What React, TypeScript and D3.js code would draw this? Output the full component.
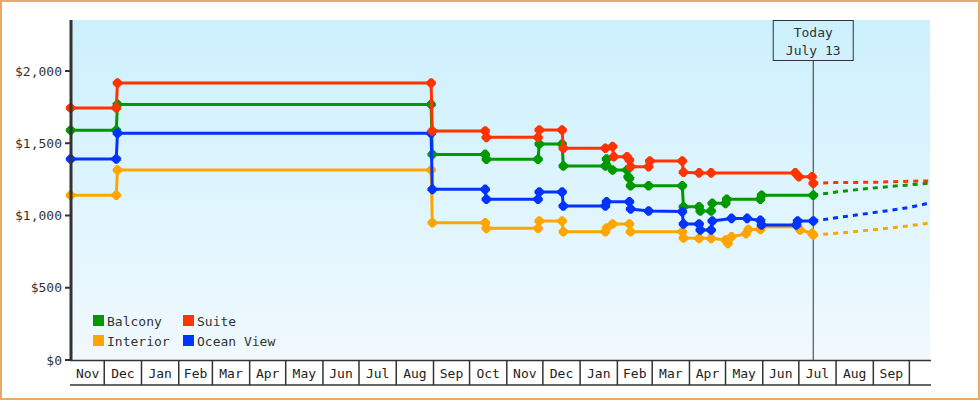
import React from "react";
import * as d3 from "d3";

const WIDTH = 980;
const HEIGHT = 400;

const seriesNames = ["Interior", "Balcony", "Ocean View", "Suite"];
const seriesColors = ["#ffa500", "#009900", "#0033ff", "#ff3300"];

const interior: [string, number][] = [
  ["2022-11-03", 1140], ["2022-12-11", 1140], ["2022-12-12", 1315],
  ["2023-08-30", 1315], ["2023-08-31", 950], ["2023-10-14", 950], ["2023-10-15", 911],
  ["2023-11-27", 911], ["2023-11-28", 962], ["2023-12-17", 962], ["2023-12-18", 888],
  ["2024-01-22", 888], ["2024-01-23", 913], ["2024-01-28", 941], ["2024-02-11", 941],
  ["2024-02-12", 888], ["2024-03-26", 888], ["2024-03-27", 844], ["2024-04-09", 842],
  ["2024-04-19", 842], ["2024-05-01", 830], ["2024-05-03", 806], ["2024-05-06", 853],
  ["2024-05-18", 874], ["2024-05-20", 903], ["2024-05-30", 903], ["2024-05-31", 923],
  ["2024-06-30", 923], ["2024-07-02", 900], ["2024-07-12", 877], ["2024-07-13", 865],
];

const balcony: [string, number][] = [
  ["2022-11-03", 1590], ["2022-12-11", 1590], ["2022-12-12", 1769],
  ["2023-08-30", 1769], ["2023-08-31", 1423], ["2023-10-14", 1423], ["2023-10-15", 1389],
  ["2023-11-27", 1389], ["2023-11-28", 1495], ["2023-12-17", 1495], ["2023-12-18", 1343],
  ["2024-01-22", 1343], ["2024-01-23", 1391], ["2024-01-28", 1315], ["2024-02-09", 1315],
  ["2024-02-10", 1268], ["2024-02-11", 1257], ["2024-02-12", 1206], ["2024-02-27", 1206],
  ["2024-03-26", 1206], ["2024-03-27", 1061], ["2024-04-09", 1061], ["2024-04-10", 1031],
  ["2024-04-19", 1031], ["2024-04-20", 1084], ["2024-05-01", 1084], ["2024-05-02", 1112],
  ["2024-05-30", 1112], ["2024-05-31", 1140], ["2024-07-13", 1140],
];

const oceanView: [string, number][] = [
  ["2022-11-03", 1391], ["2022-12-11", 1391], ["2022-12-12", 1569],
  ["2023-08-30", 1569], ["2023-08-31", 1181], ["2023-10-14", 1181], ["2023-10-15", 1112],
  ["2023-11-27", 1112], ["2023-11-28", 1163], ["2023-12-17", 1163], ["2023-12-18", 1066],
  ["2024-01-22", 1066], ["2024-01-23", 1095], ["2024-02-11", 1095], ["2024-02-12", 1045],
  ["2024-02-27", 1031], ["2024-03-26", 1027], ["2024-03-27", 941], ["2024-04-09", 941],
  ["2024-04-10", 900], ["2024-04-19", 900], ["2024-04-20", 962], ["2024-05-06", 980],
  ["2024-05-19", 980], ["2024-05-30", 966], ["2024-05-31", 934], ["2024-06-29", 934],
  ["2024-06-30", 962], ["2024-07-13", 962],
];

const suite: [string, number][] = [
  ["2022-11-03", 1744], ["2022-12-11", 1744], ["2022-12-12", 1917],
  ["2023-08-30", 1917], ["2023-08-31", 1585], ["2023-10-14", 1585], ["2023-10-15", 1541],
  ["2023-11-27", 1541], ["2023-11-28", 1592], ["2023-12-17", 1592], ["2023-12-18", 1465],
  ["2024-01-22", 1465], ["2024-01-28", 1478], ["2024-01-29", 1407], ["2024-02-09", 1407],
  ["2024-02-11", 1384], ["2024-02-12", 1338], ["2024-02-27", 1338], ["2024-02-28", 1377],
  ["2024-03-26", 1377], ["2024-03-27", 1299], ["2024-04-09", 1295], ["2024-04-19", 1295],
  ["2024-06-28", 1295], ["2024-07-01", 1268], ["2024-07-12", 1268], ["2024-07-13", 1223],
];

const interiorForecast: [string, number][] = [
  ["2024-07-13", 865], ["2024-08-01", 877], ["2024-09-01", 902], ["2024-10-01", 929], ["2024-10-18", 948],
];
const balconyForecast: [string, number][] = [
  ["2024-07-13", 1140], ["2024-08-01", 1162], ["2024-09-01", 1190], ["2024-10-01", 1212], ["2024-10-18", 1224],
];
const oceanViewForecast: [string, number][] = [
  ["2024-07-13", 962], ["2024-08-01", 984], ["2024-09-01", 1020], ["2024-10-01", 1057], ["2024-10-18", 1087],
];
const suiteForecast: [string, number][] = [
  ["2024-07-13", 1223], ["2024-08-01", 1228], ["2024-09-01", 1230], ["2024-09-25", 1236], ["2024-10-18", 1239],
];

const yTicks = [0, 500, 1000, 1500, 2000];
const todayDate = "2024-07-13";
const todayLabel = ["Today", "July 13"];

const legendOrder = ["Balcony", "Suite", "Interior", "Ocean View"];

const parse = d3.timeParse("%Y-%m-%d");
const FONT = "'DejaVu Sans Mono', monospace";

export default function App() {
  const left = 71, right = 930, top = 20, bottom = 360;
  const start = new Date(2022, 10, 3, 8);
  const end = new Date(2024, 9, 18, 4);
  const x = d3.scaleTime().domain([start, end]).range([left, right]);
  const y = d3.scaleLinear().domain([0, 2353]).range([bottom, top]);

  const allSeries = [interior, balcony, oceanView, suite];
  const allForecast = [interiorForecast, balconyForecast, oceanViewForecast, suiteForecast];

  const line = d3
    .line<[string, number]>()
    .x((d) => x(parse(d[0]) as Date))
    .y((d) => y(d[1]));
  const fline = d3
    .line<[string, number]>()
    .x((d) => x(parse(d[0]) as Date))
    .y((d) => y(d[1]))
    .curve(d3.curveMonotoneX);

  const months = d3.timeMonth.range(d3.timeMonth.ceil(start), end);
  const bounds = [start, ...months, end];
  const cells = bounds.slice(0, -1).map((b, i) => ({
    x0: x(b),
    x1: x(bounds[i + 1]),
    label: d3.timeFormat("%b")(b),
  }));

  const fmt = d3.format("$,");
  const tx = x(parse(todayDate) as Date);
  const marker = "M-1.2,-4.8L1.2,-4.8L4.8,-1.2L4.8,1.2L1.2,4.8L-1.2,4.8L-4.8,1.2L-4.8,-1.2Z";

  return (
    <svg
      width={WIDTH}
      height={HEIGHT}
      style={{ position: "absolute", left: 0, top: 0 }}
      fontFamily={FONT}
    >
      <defs>
        <linearGradient id="bg" x1="0" y1="0" x2="0" y2="1">
          <stop offset="0%" stopColor="#ccf0fd" />
          <stop offset="100%" stopColor="#f0f9fe" />
        </linearGradient>
        <clipPath id="plot">
          <rect x={left} y={top} width={right - left} height={bottom - top} />
        </clipPath>
      </defs>
      <rect x={0} y={0} width={WIDTH} height={HEIGHT} fill="#fff" />
      <rect x={1} y={1} width={WIDTH - 2} height={HEIGHT - 2} fill="none" stroke="#e8aa66" strokeWidth={2} />
      <rect x={left} y={top} width={right - left} height={bottom - top} fill="url(#bg)" />

      {/* today marker */}
      <line x1={tx} x2={tx} y1={60} y2={bottom} stroke="#333" strokeWidth={1} />
      <rect x={tx - 40} y={20.5} width={80} height={40} fill="none" stroke="#333" strokeWidth={1} />
      <text x={tx} y={37} textAnchor="middle" fontSize={13} fill="#333">{todayLabel[0]}</text>
      <text x={tx} y={54.5} textAnchor="middle" fontSize={13} fill="#333">{todayLabel[1]}</text>

      <g clipPath="url(#plot)">
        {allForecast.map((s, i) => (
          <path
            key={"f" + i}
            d={fline(s) || ""}
            fill="none"
            stroke={seriesColors[i]}
            strokeWidth={3}
            strokeDasharray="5,5"
          />
        ))}
      </g>
      {allSeries.map((s, i) => (
        <g key={"s" + i}>
          <path d={line(s) || ""} fill="none" stroke={seriesColors[i]} strokeWidth={3} strokeLinejoin="round" />
          {s.map((d, j) => (
            <path
              key={j}
              d={marker}
              transform={`translate(${x(parse(d[0]) as Date)},${y(d[1])})`}
              fill={seriesColors[i]}
            />
          ))}
        </g>
      ))}

      {/* y axis */}
      <line x1={left} x2={left} y1={top} y2={bottom + 1} stroke="#333" strokeWidth={3} />
      {yTicks.map((t) => (
        <g key={t}>
          <line x1={65} x2={left} y1={y(t)} y2={y(t)} stroke="#333" strokeWidth={2} />
          <text x={62} y={y(t) + 4.5} textAnchor="end" fontSize={13} fill="#333">
            {fmt(t)}
          </text>
        </g>
      ))}

      {/* x axis cells */}
      <line x1={left - 1} x2={right + 1} y1={bottom + 0.5} y2={bottom + 0.5} stroke="#333" strokeWidth={1.5} />
      <line x1={left - 1} x2={right + 1} y1={385} y2={385} stroke="#333" strokeWidth={1.5} />
      {months.map((m, i) => (
        <line key={i} x1={x(m)} x2={x(m)} y1={bottom} y2={385} stroke="#333" strokeWidth={1.5} />
      ))}
      {cells.map((c, i) =>
        c.x1 - c.x0 > 25 ? (
          <text key={i} x={(c.x0 + c.x1) / 2} y={378} textAnchor="middle" fontSize={13} fill="#222">
            {c.label}
          </text>
        ) : null
      )}

      {/* legend */}
      {legendOrder.map((name, i) => {
        const col = i % 2;
        const row = Math.floor(i / 2);
        const lx = 93 + col * 90;
        const ly = 315 + row * 20;
        const color = seriesColors[seriesNames.indexOf(name)];
        return (
          <g key={name}>
            <rect x={lx} y={ly} width={11} height={11} fill={color} />
            <text x={lx + 14} y={ly + 10.5} fontSize={13} fill="#333">
              {name}
            </text>
          </g>
        );
      })}
    </svg>
  );
}
